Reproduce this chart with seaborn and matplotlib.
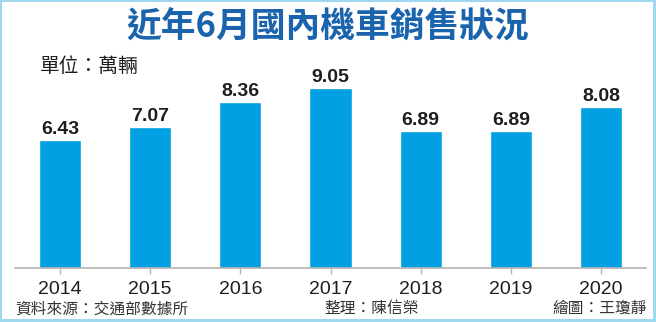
import matplotlib
matplotlib.use("Agg")
import matplotlib.pyplot as plt
from matplotlib.patches import Rectangle
import seaborn as sns
import pandas as pd

# June motorcycle sales in Taiwan (unit: 10,000 vehicles)
years = ["2014", "2015", "2016", "2017", "2018", "2019", "2020"]
sales = [6.43, 7.07, 8.36, 9.05, 6.89, 6.89, 8.08]

title = "近年6月國內機車銷售狀況"
unit_label = "單位：萬輛"
source_label = "資料來源：交通部數據所"
editor_label = "整理：陳信榮"
artist_label = "繪圖：王瓊靜"

BAR = "#00a0e2"
TITLE_BLUE = "#1a63ad"
BORDER = "#9fd7f1"
CJK = ["Noto Sans CJK TC", "DejaVu Sans"]
LATIN = ["Liberation Sans", "DejaVu Sans"]

sns.set_theme(style="white")
plt.rcParams["font.family"] = LATIN

W, H = 656, 322
fig = plt.figure(figsize=(W / 100, H / 100), dpi=100)
fig.patch.set_facecolor("white")

def fx(px):
    return px / W

def fy(py):
    return 1 - py / H

# plot area: baseline at y=268 px, x from 15 to 646 px
ax = fig.add_axes([fx(15), fy(268), fx(646) - fx(15), (268 - 69) / H])
df = pd.DataFrame({"year": years, "sales": sales})
sns.barplot(data=df, x="year", y="sales", color=BAR, saturation=1,
            width=0.466, ax=ax)
ax.set_xlim(-0.5, 6.5)
ax.set_ylim(0, 10)
ax.set_xlabel("")
ax.set_ylabel("")
ax.set_yticks([])
for s in ("left", "top", "right"):
    ax.spines[s].set_visible(False)
ax.spines["bottom"].set_color("#b3b3b3")
ax.spines["bottom"].set_linewidth(1.2)
ax.tick_params(axis="x", bottom=True, length=4, width=1, color="#b3b3b3",
               pad=5, labelsize=14, labelcolor="#1e1e1e")

for c in ax.containers:
    ax.bar_label(c, labels=[f"{v:.2f}" for v in sales], padding=1.5,
                 fontsize=14, fontweight="bold", color="#1e1e1e")

fig.text(fx(328), fy(27), title, family=CJK, fontsize=25, fontweight="bold",
         color=TITLE_BLUE, ha="center", va="center")
fig.text(fx(40), fy(67), unit_label, family=CJK, fontsize=14.2,
         color="#1e1e1e", ha="left", va="center")
fig.text(fx(15), fy(309), source_label, family=CJK, fontsize=11.3,
         color="#333333", ha="left", va="center")
fig.text(fx(372), fy(308), editor_label, family=CJK, fontsize=11.3,
         color="#333333", ha="center", va="center")
fig.text(fx(647), fy(308), artist_label, family=CJK, fontsize=11.3,
         color="#333333", ha="right", va="center")

# light blue frame around the graphic
for x0, y0, w, h in [(0, 0, 2, H), (W - 3, 0, 3, H), (0, 0, W, 1.5), (0, H - 3, W, 3)]:
    fig.patches.append(Rectangle((fx(x0), fy(y0 + h)), w / W, h / H,
                                 transform=fig.transFigure, facecolor=BORDER,
                                 edgecolor="none", zorder=10))

fig.savefig("out.png", dpi=100, facecolor="white")
